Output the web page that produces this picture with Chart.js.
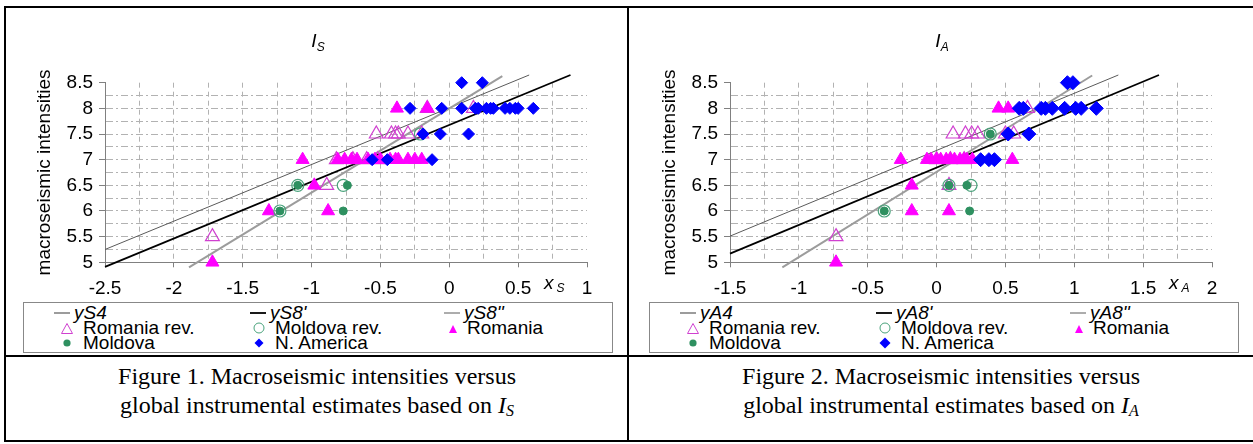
<!DOCTYPE html>
<html>
<head>
<meta charset="utf-8">
<script src="https://cdn.jsdelivr.net/npm/chart.js@4.4.0/dist/chart.umd.min.js"></script>
<style>
  body { margin: 0; background: #fff; font-family: "Liberation Sans", Arial, sans-serif; }
  #page { position: relative; width: 1253px; height: 444px; overflow: hidden; background: #fff; }
  .rule { position: absolute; background: #000; }
  canvas { position: absolute; }
  .title { position: absolute; font-style: italic; font-size: 19px; line-height: 19px; transform: translateX(-50%); }
  .title sub { font-size: 12px; vertical-align: -4px; }
  .legend { position: absolute; border: 1px solid #888; box-sizing: border-box; width: 590px; height: 51px; }
  .item { position: absolute; font-size: 19px; line-height: 18px; white-space: nowrap; }
  .item.ln { font-style: italic; }
  .item svg { position: absolute; }
  .caption { position: absolute; width: 620px; text-align: center; font-family: "Liberation Serif", "Times New Roman", serif; font-size: 24px; line-height: 29px; }
  .caption sub { font-size: 16px; vertical-align: -3px; }
</style>
</head>
<body>
<div id="page">
  <div class="rule" style="left:4px;top:6px;width:1249px;height:2px"></div>
  <div class="rule" style="left:4px;top:6px;width:2px;height:436px"></div>
  <div class="rule" style="left:627px;top:6px;width:2px;height:436px"></div>
  <div class="rule" style="left:4px;top:355px;width:1249px;height:2px"></div>
  <div class="rule" style="left:4px;top:440px;width:1249px;height:2px"></div>

  <canvas id="chartS" width="618" height="291" style="left:6px;top:9px"></canvas>
  <canvas id="chartA" width="618" height="291" style="left:631px;top:9px"></canvas>

  <div class="title" style="left:318px;top:31px">I<sub>S</sub></div>
  <div class="title" style="left:942px;top:31px">I<sub>A</sub></div>

  <div class="legend" id="legendS" style="left:23px;top:302px"></div>
  <div class="legend" id="legendA" style="left:649px;top:302px"></div>

  <div class="caption" style="left:7px;top:362px">Figure 1. Macroseismic intensities versus<br>global instrumental estimates based on <i>I</i><sub><i>S</i></sub></div>
  <div class="caption" style="left:631px;top:362px">Figure 2. Macroseismic intensities versus<br>global instrumental estimates based on <i>I</i><sub><i>A</i></sub></div>
</div>

<script>
// tick labels
const xLabelsS = ['-2.5', '-2', '-1.5', '-1', '-0.5', '0', '0.5', '1'];
const xLabelsA = ['-1.5', '-1', '-0.5', '0', '0.5', '1', '1.5', '2'];
const yLabels = ['5', '5.5', '6', '6.5', '7', '7.5', '8', '8.5'];

const lineNamesS = ['yS4', "yS8'", "yS8''"];
const lineNamesA = ['yA4', "yA8'", "yA8''"];
const seriesNames = ['Romania rev.', 'Moldova rev.', 'Romania', 'Moldova', 'N. America'];

// regression lines (end points)
const yS4 = [[-1.89, 4.9], [0.385, 8.63]];
const yS8a = [[-2.5, 4.91], [0.88, 8.65]];
const yS8b = [[-2.5, 5.25], [0.58, 8.65]];
const yA4 = [[-1.12, 4.9], [1.13, 8.64]];
const yA8a = [[-1.5, 5.17], [1.615, 8.65]];
const yA8b = [[-1.5, 5.51], [1.32, 8.65]];

// Figure 1 points (x_S, intensity)
const romaniaRevS = [[-1.72, 5.5], [-0.89, 6.5], [-0.82, 7], [-0.7, 7], [-0.6, 7], [-0.52, 7],
  [-0.53, 7.5], [-0.42, 7.5], [-0.39, 7.5], [-0.37, 7.5], [-0.3, 7.5], [-0.2, 7.5], [-0.16, 8], [0.175, 8]];
const moldovaRevS = [[-1.23, 6], [-1.1, 6.5], [-0.77, 6.5], [-0.21, 7.5]];
const romaniaS = [[-1.72, 5], [-1.31, 6], [-0.88, 6], [-0.98, 6.5], [-1.065, 7], [-0.81, 7], [-0.76, 7],
  [-0.71, 7], [-0.67, 7], [-0.59, 7], [-0.54, 7], [-0.5, 7], [-0.43, 7], [-0.39, 7], [-0.37, 7],
  [-0.3, 7], [-0.25, 7], [-0.2, 7], [-0.38, 8], [-0.16, 8]];
const moldovaS = [[-1.23, 6], [-1.1, 6.5], [-0.74, 6.5], [-0.77, 6]];
const nAmericaS = [[-0.56, 7], [-0.45, 7], [-0.125, 7], [-0.19, 7.5], [-0.065, 7.5], [0.14, 7.5],
  [-0.285, 8], [-0.055, 8], [0.09, 8], [0.19, 8], [0.21, 8], [0.27, 8], [0.3, 8], [0.32, 8],
  [0.405, 8], [0.44, 8], [0.48, 8], [0.5, 8], [0.61, 8], [0.09, 8.5], [0.24, 8.5]];

// Figure 2 points (x_A, intensity)
const romaniaRevA = [[-0.73, 5.5], [0.09, 6.5], [0, 7], [0.1, 7], [0.2, 7], [0.12, 7.5], [0.21, 7.5],
  [0.255, 7.5], [0.3, 7.5], [0.5, 7.5], [0.56, 7.5], [0.66, 8]];
const moldovaRevA = [[-0.38, 6], [0.09, 6.5], [0.25, 6.5], [0.39, 7.5]];
const romaniaA = [[-0.73, 5], [-0.18, 6], [0.09, 6], [-0.18, 6.5], [-0.26, 7], [-0.07, 7], [-0.04, 7],
  [0, 7], [0.03, 7], [0.07, 7], [0.1, 7], [0.13, 7], [0.17, 7], [0.2, 7], [0.22, 7], [0.26, 7],
  [0.55, 7], [0.45, 8], [0.52, 8]];
const moldovaA = [[-0.38, 6], [0.24, 6], [0.09, 6.5], [0.22, 6.5], [0.39, 7.5]];
const nAmericaA = [[0.32, 7], [0.38, 7], [0.42, 7], [0.52, 7.5], [0.67, 7.5], [0.6, 8], [0.63, 8],
  [0.76, 8], [0.79, 8], [0.84, 8], [0.93, 8], [1.01, 8], [1.05, 8], [1.16, 8], [0.95, 8.5], [0.99, 8.5]];

const toXY = arr => arr.map(p => ({ x: p[0], y: p[1] }));
const near = (a, b) => Math.abs(a - b) < 1e-6;
const isMajor = v => near(v * 2, Math.round(v * 2));

// draws the x_S / x_A axis name between the last two labels
const axisNamePlugin = {
  id: 'axisName',
  afterDraw(chart, args, opts) {
    const { ctx, chartArea } = chart;
    const px = chart.scales.x.getPixelForValue(opts.at);
    const y = chartArea.bottom + 27;
    ctx.save();
    ctx.fillStyle = '#000';
    ctx.textBaseline = 'alphabetic';
    ctx.font = 'italic 19px "Liberation Sans"';
    ctx.textAlign = 'right';
    ctx.fillText('x', px + 1, y);
    ctx.font = 'italic 12px "Liberation Sans"';
    ctx.textAlign = 'left';
    ctx.fillText(opts.sub, px + 4, y + 3);
    ctx.restore();
  }
};

function makeChart(id, c) {
  const lineSet = (label, data, color, width) => ({
    label, data: toXY(data), showLine: true, borderColor: color, borderWidth: width,
    pointRadius: 0, clip: 10, order: 10
  });
  const pointSet = (label, data, style, r, fill, stroke, bw, order) => ({
    label, data: toXY(data), showLine: false, pointStyle: style, pointRadius: r,
    pointBackgroundColor: fill, pointBorderColor: stroke, pointBorderWidth: bw,
    pointHoverRadius: r, order, clip: false
  });

  return new Chart(document.getElementById(id), {
    type: 'scatter',
    data: {
      datasets: [
        lineSet(c.lineNames[0], c.l4, '#9c9c9c', 2),
        lineSet(c.lineNames[1], c.l8a, '#000', 1.8),
        lineSet(c.lineNames[2], c.l8b, '#5a5a5a', 1),
        pointSet(seriesNames[0], c.romaniaRev, 'triangle', 8, 'rgba(0,0,0,0)', '#d040d0', 1.2, 5),
        pointSet(seriesNames[1], c.moldovaRev, 'circle', 6, 'rgba(0,0,0,0)', '#4aa37c', 1.2, 3),
        pointSet(seriesNames[2], c.romania, 'triangle', 7.5, '#ff00ff', '#ff00ff', 1, 4),
        pointSet(seriesNames[3], c.moldova, 'circle', 4, '#2e9060', '#2e9060', 1, 2),
        pointSet(seriesNames[4], c.nAmerica, 'rectRot', c.diamond, '#0000ff', '#0000ff', 1, 1)
      ]
    },
    options: {
      responsive: false,
      animation: false,
      devicePixelRatio: 1,
      layout: { padding: { top: 73.7, right: 37, bottom: 0, left: 0 } },
      plugins: {
        legend: { display: false },
        tooltip: { enabled: false },
        axisName: { at: c.nameAt, sub: c.sub }
      },
      scales: {
        x: {
          type: 'linear', min: c.xmin, max: c.xmax,
          afterFit: s => { s.height = 37.7; },
          ticks: {
            stepSize: 0.25, autoSkip: false, maxRotation: 0, padding: 10, color: '#000',
            font: { size: 19, family: '"Liberation Sans"' },
            callback: v => isMajor(v) ? c.xLabels.find(l => near(parseFloat(l), v)) || '' : ''
          },
          grid: {
            color: g => (near(g.tick.value, c.xmin) || near(g.tick.value, c.xmax)) ? 'rgba(0,0,0,0)' : '#b2b2b2',
            lineWidth: 1, tickLength: 5, tickBorderDash: [],
            tickColor: g => isMajor(g.tick.value) ? '#808080' : 'rgba(0,0,0,0)'
          },
          border: { color: '#808080', width: 1, dash: [5, 4] }
        },
        y: {
          type: 'linear', min: 5, max: 8.5,
          afterFit: s => { s.width = 99; },
          ticks: {
            stepSize: 0.25, autoSkip: false, padding: 6, color: '#000',
            font: { size: 19, family: '"Liberation Sans"' },
            callback: v => isMajor(v) ? yLabels.find(l => near(parseFloat(l), v)) || '' : ''
          },
          grid: {
            color: g => (near(g.tick.value, 5) || near(g.tick.value, 8.5)) ? 'rgba(0,0,0,0)' : '#b2b2b2',
            lineWidth: 1, tickLength: 6, tickBorderDash: [],
            tickColor: g => isMajor(g.tick.value) ? '#808080' : 'rgba(0,0,0,0)'
          },
          border: { color: '#808080', width: 1, dash: [7, 3, 2, 3] },
          title: {
            display: true, text: 'macroseismic intensities', color: '#000',
            font: { size: 19, family: '"Liberation Sans"' }, padding: { top: 27, bottom: 0 }
          }
        }
      }
    },
    plugins: [axisNamePlugin]
  });
}

makeChart('chartS', {
  xmin: -2.5, xmax: 1, xLabels: xLabelsS, nameAt: 0.75, sub: 'S', diamond: 6,
  lineNames: lineNamesS, l4: yS4, l8a: yS8a, l8b: yS8b,
  romaniaRev: romaniaRevS, moldovaRev: moldovaRevS, romania: romaniaS, moldova: moldovaS, nAmerica: nAmericaS
});
makeChart('chartA', {
  xmin: -1.5, xmax: 2, xLabels: xLabelsA, nameAt: 1.75, sub: 'A', diamond: 7,
  lineNames: lineNamesA, l4: yA4, l8a: yA8a, l8b: yA8b,
  romaniaRev: romaniaRevA, moldovaRev: moldovaRevA, romania: romaniaA, moldova: moldovaA, nAmerica: nAmericaA
});

// legend boxes (HTML), symbols drawn as small svg shapes
const sym = {
  line4: '<svg width="16" height="4" style="left:0;top:7px"><line x1="0" y1="2" x2="16" y2="2" stroke="#9c9c9c" stroke-width="2"/></svg>',
  line8a: '<svg width="16" height="4" style="left:0;top:7px"><line x1="0" y1="2" x2="16" y2="2" stroke="#000" stroke-width="1.8"/></svg>',
  line8b: '<svg width="16" height="4" style="left:0;top:7px"><line x1="0" y1="2" x2="16" y2="2" stroke="#5a5a5a" stroke-width="1"/></svg>',
  romaniaRev: '<svg width="14" height="14" style="left:-7px;top:3px"><polygon points="7,1.5 12.5,11.5 1.5,11.5" fill="none" stroke="#d040d0" stroke-width="1"/></svg>',
  moldovaRev: '<svg width="14" height="14" style="left:-7px;top:2px"><circle cx="7" cy="7" r="5" fill="none" stroke="#4aa37c" stroke-width="1"/></svg>',
  romania: '<svg width="14" height="14" style="left:-7px;top:3px"><polygon points="7,3 11,11 3,11" fill="#ff00ff"/></svg>',
  moldova: '<svg width="14" height="14" style="left:-7px;top:2px"><circle cx="7" cy="7" r="3.6" fill="#2e9060"/></svg>',
  nAmerica: '<svg width="14" height="14" style="left:-7px;top:2px"><polygon points="7,2.5 11.5,7 7,11.5 2.5,7" fill="#0000ff"/></svg>'
};

function fillLegend(id, lineNames, big) {
  const box = document.getElementById(id);
  const rows = [1, 16, 31];
  const items = [
    [sym.line4, lineNames[0], 30, 20, 0, true],
    [sym.line8a, lineNames[1], 226, 20, 0, true],
    [sym.line8b, lineNames[2], 420, 20, 0, true],
    [sym.romaniaRev, seriesNames[0], 43, 16, 1, false],
    [sym.moldovaRev, seriesNames[1], 235, 16, 1, false],
    [sym.romania, seriesNames[2], 429, 14, 1, false],
    [sym.moldova, seriesNames[3], 43, 16, 2, false],
    [big ? sym.nAmerica.replace(/7,2\.5 11\.5,7 7,11\.5 2\.5,7/, '7,1.5 12.5,7 7,12.5 1.5,7') : sym.nAmerica,
      seriesNames[4], 235, 16, 2, false]
  ];
  items.forEach(([svg, text, x, gap, row, isLine]) => {
    const d = document.createElement('div');
    d.className = 'item' + (isLine ? ' ln' : '');
    d.style.left = x + 'px';
    d.style.top = rows[row] + 'px';
    d.innerHTML = svg + '<span style="position:absolute;left:' + gap + 'px;top:0">' + text + '</span>';
    box.appendChild(d);
  });
}
fillLegend('legendS', lineNamesS, false);
fillLegend('legendA', lineNamesA, true);
</script>
</body>
</html>
